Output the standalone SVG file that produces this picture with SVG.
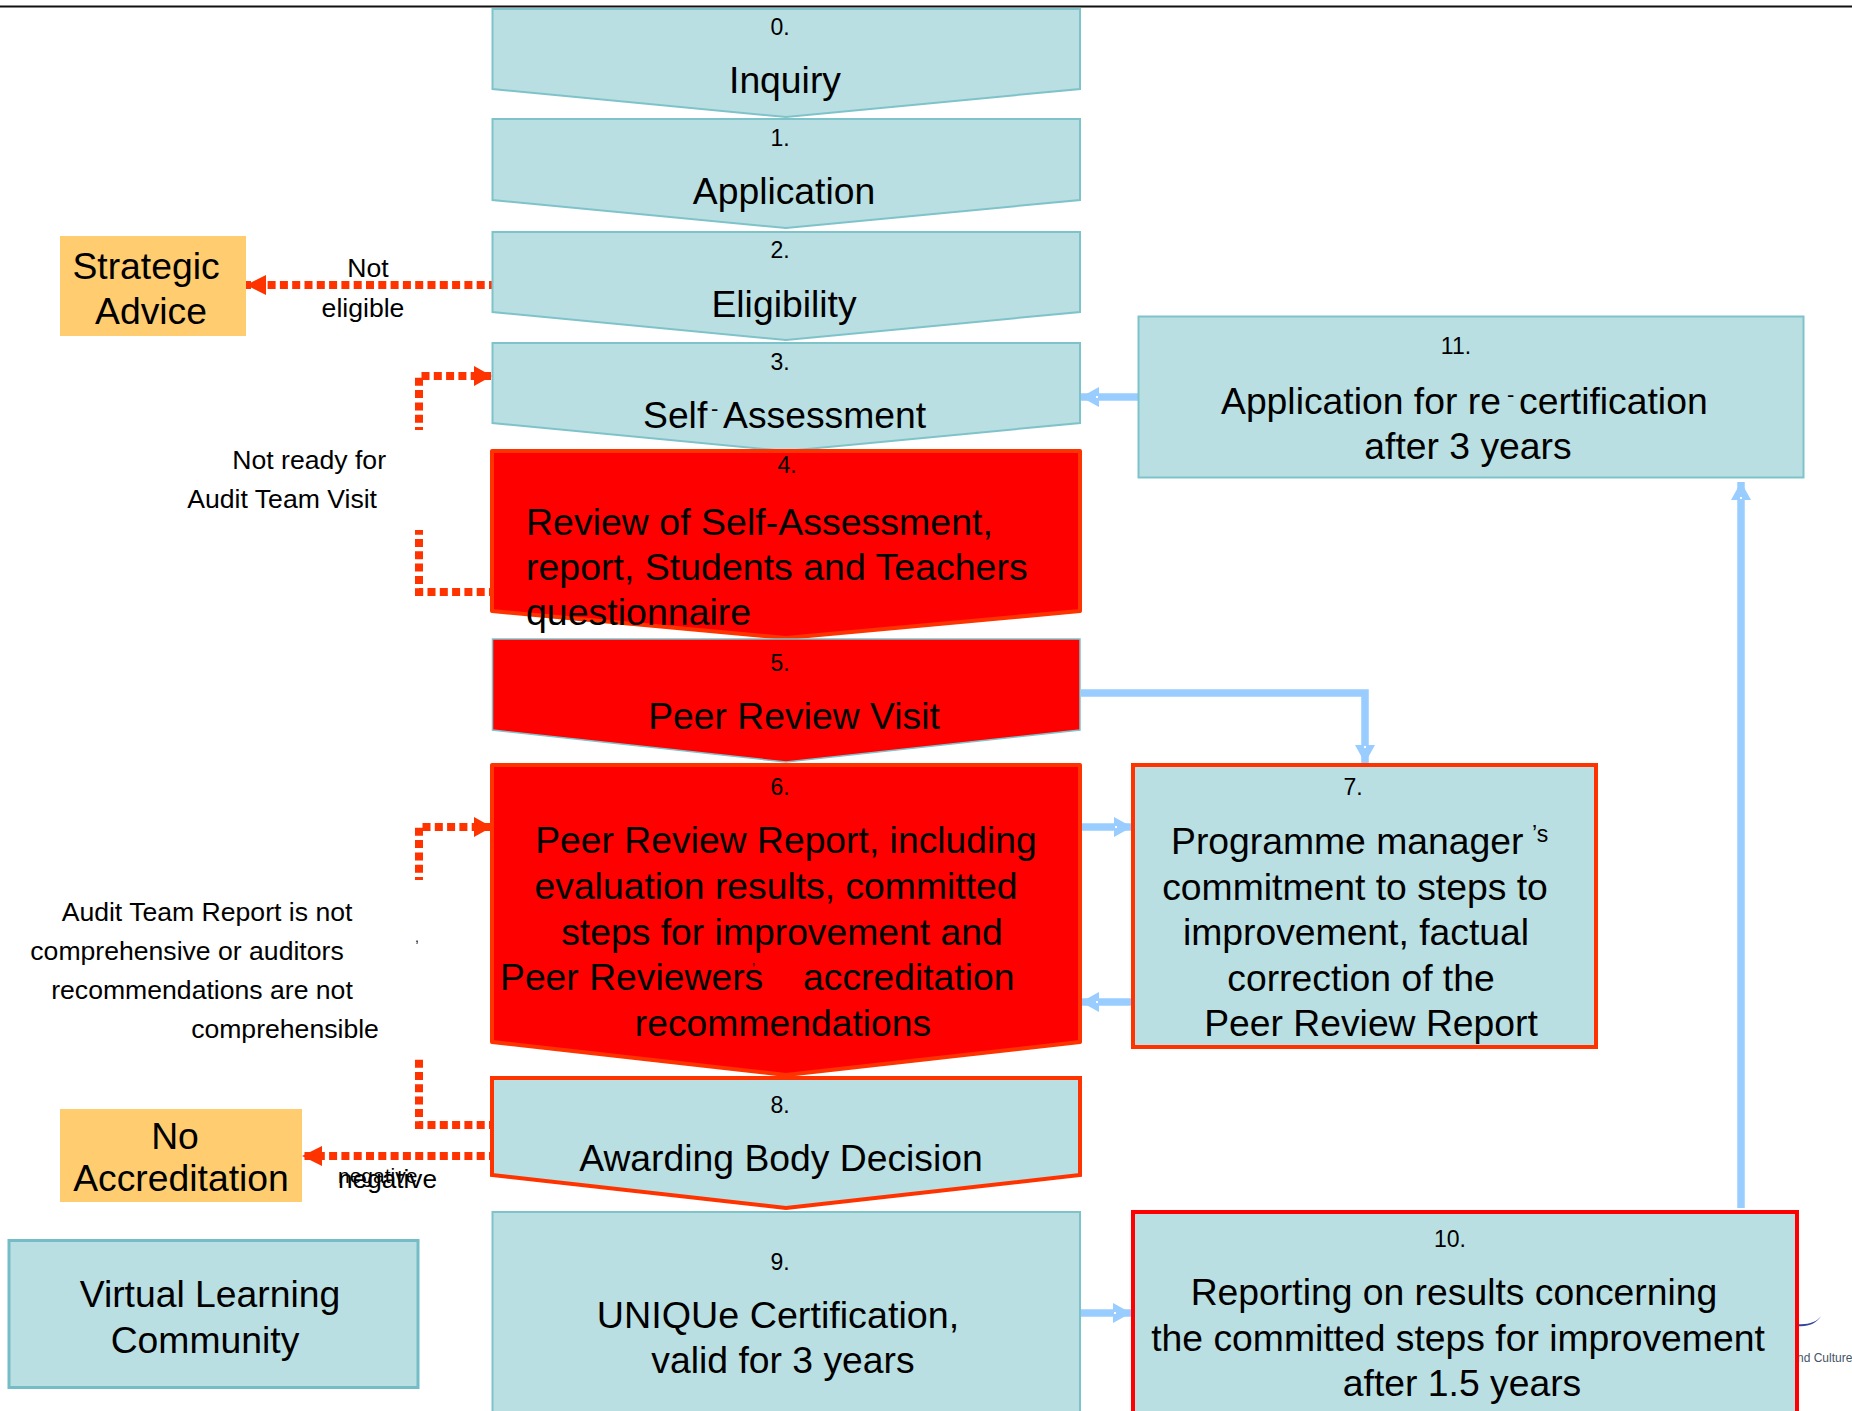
<svg xmlns="http://www.w3.org/2000/svg" width="1852" height="1411" viewBox="0 0 1852 1411">
<style>
text{font-family:"Liberation Sans",Arial,sans-serif;fill:#000}
.n{font-size:23px;text-anchor:middle}
.t{font-size:37.300px;text-anchor:middle}
.s{font-size:37.300px}
.l{font-size:26.600px;text-anchor:middle}
.teal{fill:#b9dfe2;stroke:#7fc3ca;stroke-width:2}
.red{fill:#ff0000;stroke:#ff3300;stroke-width:4;stroke-linejoin:round}
.out{fill:#b9dfe2;stroke:#ff3300;stroke-width:4}
.dash{fill:none;stroke:#ff3300;stroke-width:8;stroke-dasharray:8 4.300;stroke-dashoffset:5}
.blue{fill:none;stroke:#99ccff;stroke-width:7.500}
.or{fill:#ffcc6f}
</style>
<defs>
<marker id="rh" markerUnits="userSpaceOnUse" markerWidth="19" markerHeight="22" refX="18" refY="11" orient="auto"><path d="M0 1L18 11L0 21Z" fill="#ff3300"/></marker>
<marker id="rw" markerUnits="userSpaceOnUse" markerWidth="21" markerHeight="22" refX="20" refY="11" orient="auto"><path d="M0 1L20 11L0 21Z" fill="#ff3300"/></marker>
<marker id="bh" markerUnits="userSpaceOnUse" markerWidth="18" markerHeight="20" refX="18" refY="10" orient="auto"><path d="M0 0L18 10L0 20Z" fill="#99ccff"/><rect x="1" y="9" width="2" height="2" fill="#fff"/></marker>
</defs>
<rect x="0" y="5.500" width="1852" height="2" fill="#111"/>
<g id="logo"><path d="M1797 1326C1808 1327 1816 1324 1821 1316C1817 1322 1808 1325 1797 1324Z" fill="#33449a"/><text x="1797" y="1362" font-size="12" style="fill:#445566">nd Culture</text></g>
<g id="connectors">
<path class="dash" d="M492 285H246" marker-end="url(#rw)"/>
<path class="dash" d="M419 430V376H492" marker-end="url(#rh)"/>
<path class="dash" d="M492 592H419V530"/>
<path class="dash" d="M419 880V827H492" marker-end="url(#rh)"/>
<path class="dash" d="M492 1125H419V1059"/>
<path class="dash" d="M492 1156H302" marker-end="url(#rw)"/>
<path class="blue" d="M1138 397H1081" marker-end="url(#bh)"/>
<path class="blue" d="M1081 693H1365V763" marker-end="url(#bh)"/>
<path class="blue" d="M1080 827H1132" marker-end="url(#bh)"/>
<path class="blue" d="M1132 1002H1081" marker-end="url(#bh)"/>
<path class="blue" d="M1080 1313H1131" marker-end="url(#bh)"/>
<path class="blue" d="M1741 1208V482" marker-end="url(#bh)"/>
</g>
<g id="node-0"><path class="teal" d="M492.500 9H1080V89L786 117L492.500 89Z"/><text class="n" x="780" y="35">0.</text><text class="t" x="785" y="93">Inquiry</text></g>
<g id="node-1"><path class="teal" d="M492.500 119H1080V200L786 228L492.500 200Z"/><text class="n" x="780" y="146">1.</text><text class="t" x="784" y="204">Application</text></g>
<g id="node-2"><path class="teal" d="M492.500 232H1080V312L786 340L492.500 312Z"/><text class="n" x="780" y="258">2.</text><text class="t" x="784" y="317">Eligibility</text></g>
<g id="node-3"><path class="teal" d="M492.500 343H1080V423L786 451L492.500 423Z"/><text class="n" x="780" y="370">3.</text><text class="s" x="643" y="428">Self</text><text x="711" y="416" font-size="22">-</text><text class="s" x="723" y="428">Assessment</text></g>
<g id="node-4"><path class="red" d="M492 451H1080V611L786 638L492 611Z"/><text class="n" x="787" y="473">4.</text><g style="font-size:37.500px"><text x="526" y="535">Review of Self-Assessment,</text><text x="526" y="580">report, Students and Teachers</text><text x="526" y="625">questionnaire</text></g></g>
<g id="node-5"><path d="M492.500 639H1080V730L786 762L492.500 730Z" fill="#ff0000" stroke="#7fc3ca" stroke-width="1.500"/><text class="n" x="780" y="671">5.</text><text class="t" x="794" y="729">Peer Review Visit</text></g>
<g id="node-6"><path class="red" d="M492 765H1080V1042L786 1075L492 1042Z"/><text class="n" x="780" y="795">6.</text><text class="t" x="786" y="853">Peer Review Report, including</text><text class="t" x="776" y="899">evaluation results, committed</text><text class="t" x="782" y="945">steps for improvement and</text><text class="s" x="500" y="990">Peer Reviewers</text><text x="752" y="973" font-size="14">’</text><text class="s" x="803" y="990">accreditation</text><text class="t" x="783" y="1036">recommendations</text></g>
<g id="node-7"><rect class="out" x="1133" y="765" width="463" height="282"/><text class="n" x="1353" y="795">7.</text><text class="s" x="1171" y="854">Programme manager</text><text x="1532" y="842" font-size="23">’s</text><text class="t" x="1355" y="900">commitment to steps to</text><text class="t" x="1356" y="945">improvement, factual</text><text class="t" x="1361" y="991">correction of the</text><text class="t" x="1371" y="1036">Peer Review Report</text></g>
<g id="node-8"><path class="out" d="M492 1078H1080V1175L786 1208L492 1175Z"/><text class="n" x="780" y="1113">8.</text><text class="t" x="781" y="1171">Awarding Body Decision</text></g>
<g id="node-9"><rect class="teal" x="492.500" y="1212" width="587.500" height="205"/><text class="n" x="780" y="1270">9.</text><text class="t" x="778" y="1328" style="font-size:37.700px">UNIQUe Certification,</text><text class="t" x="783" y="1373">valid for 3 years</text></g>
<g id="node-10"><rect x="1133" y="1212" width="664" height="205" fill="#b9dfe2" stroke="#ff0000" stroke-width="4"/><text class="n" x="1450" y="1247">10.</text><text class="t" x="1454" y="1305">Reporting on results concerning</text><text class="t" x="1458" y="1351">the committed steps for improvement</text><text class="t" x="1462" y="1396">after 1.5 years</text></g>
<g id="node-11"><rect class="teal" x="1138.500" y="316.500" width="665" height="161"/><text class="n" x="1456" y="354">11.</text><text class="s" x="1221" y="414">Application for re</text><text x="1507" y="402" font-size="22">-</text><text class="s" x="1519" y="414">certification</text><text class="t" x="1468" y="459">after 3 years</text></g>
<g id="strategic-advice"><rect class="or" x="60" y="236" width="186" height="100"/><text class="t" x="146" y="279">Strategic</text><text class="t" x="151" y="324">Advice</text></g>
<g id="no-accreditation"><rect class="or" x="60" y="1109" width="242" height="93"/><text class="t" x="175" y="1149">No</text><text class="t" x="181" y="1191">Accreditation</text></g>
<g id="virtual-learning-community"><rect x="9" y="1240.500" width="409" height="147" fill="#b9dfe2" stroke="#74bdc6" stroke-width="3"/><text class="t" x="210" y="1307">Virtual Learning</text><text class="t" x="205" y="1353">Community</text></g>
<g id="labels">
<text class="l" x="368" y="277">Not</text><text class="l" x="363" y="317">eligible</text>
<text class="l" x="386" y="469" style="text-anchor:end">Not ready for</text><text class="l" x="377" y="508" style="text-anchor:end">Audit Team Visit</text>
<text class="l" x="207" y="921">Audit Team Report is not</text><text class="l" x="187" y="960">comprehensive or auditors</text><text class="l" x="202" y="999">recommendations are not</text><text class="l" x="285" y="1038">comprehensible</text>
<text x="415" y="942" font-size="14">,</text>
<text x="338" y="1183" font-size="21">negative</text><text x="338" y="1188" font-size="26.200">negative</text>
</g>
</svg>
